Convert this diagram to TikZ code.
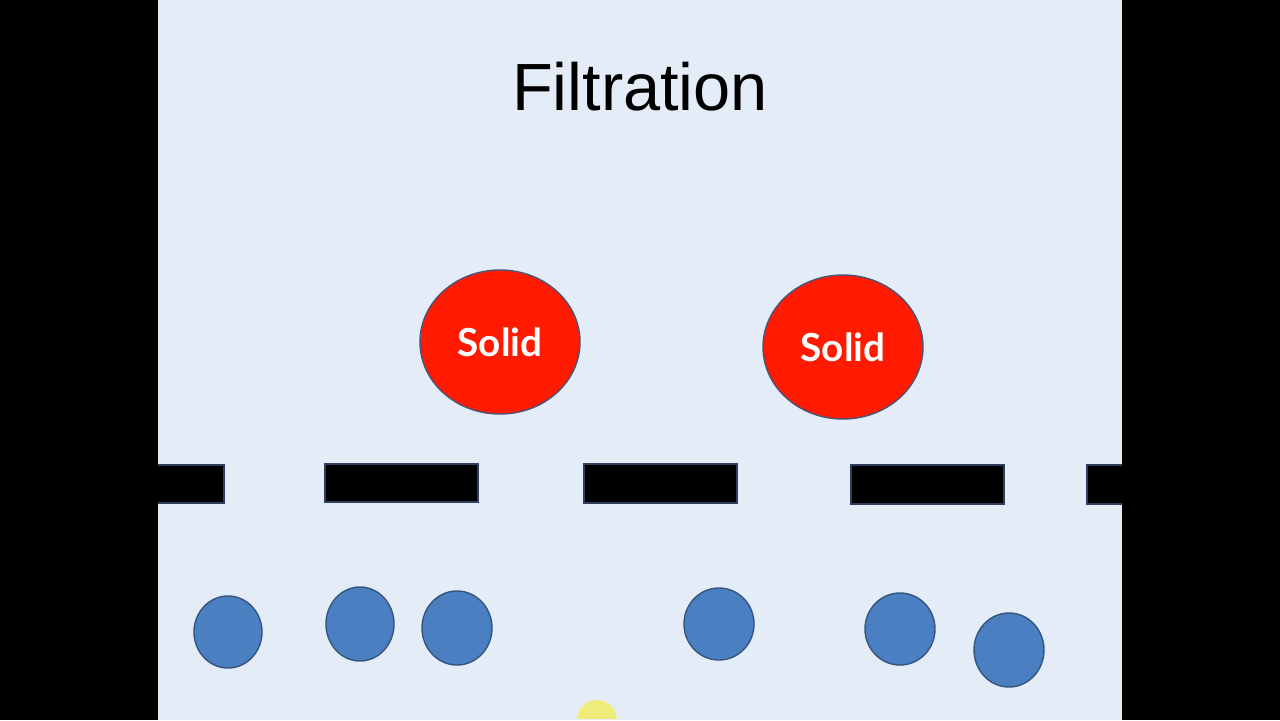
\documentclass[tikz,border=0pt]{standalone}
\usepackage{fontspec}
\usetikzlibrary{shapes.geometric}
\setmainfont{Liberation Sans}
\newfontfamily\solidfont{Lato}
\definecolor{slidebg}{HTML}{E4ECF8}
\definecolor{solidred}{HTML}{FF1A00}
\definecolor{solidedge}{HTML}{4A5478}
\definecolor{dropfill}{HTML}{4A7FC2}
\definecolor{dropedge}{HTML}{35557E}
\definecolor{baredge}{HTML}{2E3E5C}
\definecolor{cursor}{HTML}{F0EC7A}
\begin{document}
\begin{tikzpicture}[x=0.02cm,y=-0.02cm,
  solidball/.style={ellipse, fill=solidred, draw=solidedge, line width=0.8pt, minimum width=160*0.02cm, minimum height=144*0.02cm, inner sep=0pt, text=white, font=\solidfont\bfseries\fontsize{22}{22}\selectfont},
  drop/.style={draw=dropedge, fill=dropfill, line width=0.8pt},
  filterbar/.style={fill=black, draw=baredge, line width=0.6pt}]
\useasboundingbox (0,0) rectangle (1280,720);
\fill[black] (0,0) rectangle (1280,720);
\fill[slidebg] (158,0) rectangle (1122,720);
\node[font=\fontsize{38}{38}\selectfont, anchor=base, inner sep=0pt] (title) at (640,110) {Filtration};
% solids
\node[solidball] (s1) at (500,342) {Solid};
\node[solidball] (s2) at (843,347) {Solid};
% filter
\draw[filterbar] (150,465) rectangle (224,503);
\draw[filterbar] (325,464) rectangle (478,502);
\draw[filterbar] (584,464) rectangle (737,503);
\draw[filterbar] (851,465) rectangle (1004,504);
\draw[filterbar] (1087,465) rectangle (1130,504);
% filtrate particles
\draw[drop] (228,632) ellipse [x radius=34, y radius=36];
\draw[drop] (360,624) ellipse [x radius=34, y radius=37];
\draw[drop] (457,628) ellipse [x radius=35, y radius=37];
\draw[drop] (719,624) ellipse [x radius=35, y radius=36];
\draw[drop] (900,629) ellipse [x radius=35, y radius=36];
\draw[drop] (1009,650) ellipse [x radius=35, y radius=37];
% cursor highlight
\begin{scope}
\clip (158,0) rectangle (1122,718);
\fill[cursor] (597,720) circle [radius=20];
\end{scope}
\fill[black] (0,0) rectangle (158,720);
\fill[black] (1122,0) rectangle (1280,720);
\end{tikzpicture}
\end{document}
